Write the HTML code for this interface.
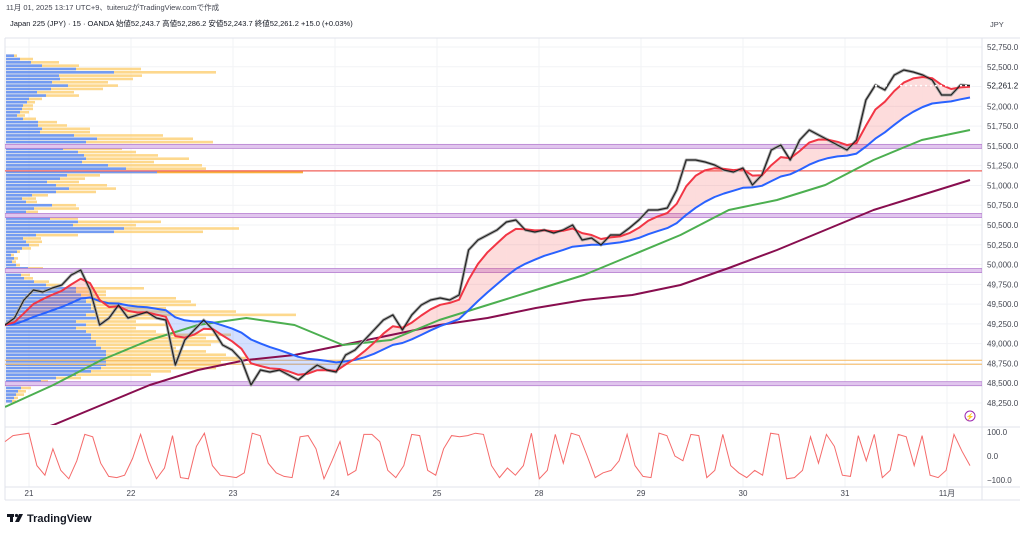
<!DOCTYPE html>
<html><head><meta charset="utf-8">
<style>
body{margin:0;background:#fff;width:1024px;height:535px;overflow:hidden;font-family:"Liberation Sans","Noto Sans CJK JP",sans-serif;}
svg{position:absolute;left:0;top:0}
text{font-family:"Liberation Sans","Noto Sans CJK JP",sans-serif}
</style></head>
<body>
<svg id="c" width="1024" height="535"></svg>
<script>
const closes=[49236,49325,49552,49678,49653,49704,49742,49868,49931,49678,49236,49325,49489,49325,49363,49400,49325,49299,48730,49046,49173,49299,49173,48983,48920,48794,48478,48667,48642,48667,48604,48541,48642,48730,48667,48642,48857,48920,49046,49173,49299,49363,49173,49363,49489,49552,49577,49552,49615,50184,50310,50374,50437,50538,50563,50437,50412,50437,50399,50437,50500,50310,50336,50247,50374,50374,50462,50563,50690,50690,50715,50942,51322,51322,51296,51258,51195,51170,51220,51006,51132,51448,51511,51322,51574,51701,51638,51574,51511,51448,51574,52080,52270,52206,52396,52459,52434,52396,52333,52143,52143,52270,52261];
const greenMA=[48200,48478,48794,49046,49236,49325,49236,48983,49046,49299,49489,49678,49868,50121,50374,50690,50816,51006,51322,51574,51701];
const maroonMA=[47783,47972,48225,48478,48667,48794,48857,48983,49110,49236,49325,49451,49552,49615,49742,49957,50184,50437,50690,50879,51069];
const oscValues=[60,85,90,95,-40,-80,30,-60,-95,-20,90,80,-30,-85,-90,-80,-10,90,-20,-95,-50,85,-90,-95,40,95,-40,-80,-85,-90,-70,95,85,-30,-70,-85,-90,80,85,30,-95,-20,60,-80,-60,90,90,60,-60,-90,-40,90,85,-60,-80,30,85,80,85,95,90,-40,-90,-50,-80,-40,95,-95,-60,90,-30,95,85,0,-90,-70,-60,-20,90,-40,-85,-90,95,85,0,-20,90,85,-90,-60,90,-40,-70,-90,-60,-80,95,90,-95,-90,-60,80,-30,90,40,-80,-85,85,-20,90,-90,-60,90,80,-40,85,-80,-90,-60,90,20,-40];
const vpBlue=[8,14,25,36,70,108,53,54,46,62,45,31,40,23,21,17,16,14,11,17,32,32,36,34,68,91,80,89,57,72,78,80,76,102,120,151,61,54,41,50,63,50,26,16,20,46,28,20,15,44,72,67,118,108,30,17,20,23,16,11,5,8,6,10,22,17,15,18,28,40,70,70,75,80,80,85,85,90,80,90,70,80,70,80,85,85,90,90,95,100,100,100,100,100,95,85,70,50,35,25,15,12,10,8,6];
const vpTotal=[11,27,53,73,135,210,136,127,102,112,97,68,73,36,29,27,27,23,19,30,51,61,84,84,157,187,207,208,116,130,152,183,148,196,200,297,94,79,73,101,110,90,42,30,31,70,73,32,25,72,155,130,233,197,72,35,36,33,25,14,8,12,10,14,37,23,24,27,43,55,138,100,100,170,185,190,160,230,290,150,130,160,130,150,225,200,215,205,170,200,220,240,215,220,210,165,145,75,42,40,25,20,18,12,10];
const priceTicks=[52750,52500,52000,51750,51500,51250,51000,50750,50500,50250,50000,49750,49500,49250,49000,48750,48500,48250];
const gridTicks=[52750,52500,52250,52000,51750,51500,51250,51000,50750,50500,50250,50000,49750,49500,49250,49000,48750,48500,48250];
const dayLabels=['21','22','23','24','25','28','29','30','31','11月'];
const bandLevels=[51494,50620,49924,48494];
const redLevel=51184;
const valueLevels=[48790,48740];
const lastPrice=52261.2;

const NS='http://www.w3.org/2000/svg';
const svg=document.getElementById('c');
function el(tag,attrs,parent){const e=document.createElementNS(NS,tag);for(const k in attrs)e.setAttribute(k,attrs[k]);(parent||svg).appendChild(e);return e;}
const yP=p=>47+(52750-p)*0.07911;
const L=5,R=982,T=38,B=425;
const xC=i=>5+i*(965/(closes.length-1));
const xMA=(i,n)=>5+i*(965/(n-1));
const xDay=i=>29+i*102;
const yO=v=>456-v*0.24;

const grid=el('g',{},svg);
gridTicks.forEach(p=>el('line',{x1:L,x2:R,y1:yP(p),y2:yP(p),stroke:'#f2f3f6','stroke-width':1},grid));
dayLabels.forEach((d,i)=>{el('line',{x1:xDay(i),x2:xDay(i),y1:T,y2:487,stroke:'#f2f3f6','stroke-width':1},grid);});
el('line',{x1:R,x2:R,y1:T,y2:500,stroke:'#e0e3eb'});
el('line',{x1:L,x2:1020,y1:T,y2:T,stroke:'#e0e3eb'});
el('line',{x1:L,x2:1020,y1:427,y2:427,stroke:'#e0e3eb'});
el('line',{x1:L,x2:1020,y1:487,y2:487,stroke:'#e0e3eb'});
el('line',{x1:L,x2:1020,y1:500,y2:500,stroke:'#e0e3eb'});
el('line',{x1:L,x2:L,y1:T,y2:500,stroke:'#e0e3eb'});

const defs=el('defs',{});const cp=el('clipPath',{id:'cl'},defs);el('rect',{x:L,y:T,width:R-L,height:B-T},cp);
const main=el('g',{'clip-path':'url(#cl)'});


const vp=el('g',{opacity:0.85},main);
let maxI=0;vpTotal.forEach((v,i)=>{if(v>vpTotal[maxI])maxI=i;});
vpBlue.forEach((b,i)=>{
  const p=52640-i*42, y=yP(p)-1.3;
  const tot=el('rect',{x:6,y:y,width:vpTotal[i],height:2.6,fill:i===maxI?'#f7a21b':'#fdd27a'},vp);
  
  const bl=el('rect',{x:6,y:y,width:b,height:2.6,fill:'#5b8af0'},vp);
  
});

bandLevels.forEach(p=>{const r=el('rect',{x:L,y:yP(p)-2,width:R-L,height:4,fill:'#e1c6ee',stroke:'#b67fd0','stroke-width':0.8},main);});
const rl=el('line',{x1:L,x2:R,y1:yP(redLevel),y2:yP(redLevel),stroke:'#f0605a','stroke-width':1.3},main);
valueLevels.forEach(p=>{const l=el('line',{x1:L,x2:R,y1:yP(p),y2:yP(p),stroke:'#f5b860','stroke-width':1},main);});

function ema(a,al){const o=[];let v=a[0];a.forEach(x=>{v=al*x+(1-al)*v;o.push(v);});return o;}
const red=ema(closes,0.4), blue=ema(closes,0.13);
const fill=el('g',{},main);
for(let i=0;i<closes.length-1;i++){
  const up=(red[i]+red[i+1])>(blue[i]+blue[i+1]);
  el('polygon',{points:`${xC(i)},${yP(red[i])} ${xC(i+1)},${yP(red[i+1])} ${xC(i+1)},${yP(blue[i+1])} ${xC(i)},${yP(blue[i])}`,fill:up?'rgba(247,82,82,0.2)':'rgba(41,98,255,0.2)'},fill);
}
function line(arr,xf,col,w,name){const pts=arr.map((v,i)=>xf(i).toFixed(1)+','+yP(v).toFixed(1)).join(' ');const p=el('polyline',{points:pts,fill:'none',stroke:col,'stroke-width':w,'stroke-linejoin':'round'},main);return p;}
line(maroonMA,i=>xMA(i,maroonMA.length),'#880e4f',2,'ma-200');
line(greenMA,i=>xMA(i,greenMA.length),'#4caf50',2,'ma-100');
line(closes,xC,'#a8a8a8',3,'price-wicks');
line(blue,xC,'#2962ff',2,'ema-slow');
line(red,xC,'#f23645',2,'ema-fast');
line(closes,xC,'#222',1.2,'price-line');
const lp=el('line',{x1:870,x2:975,y1:yP(lastPrice),y2:yP(lastPrice),stroke:'#fff','stroke-dasharray':'2 3','stroke-width':1.5},main);

priceTicks.forEach(p=>{const t=el('text',{x:987,y:yP(p)+3,'font-size':8,fill:'#434651'});t.textContent=p.toLocaleString('en-US',{minimumFractionDigits:1});});
const lpl=el('text',{x:987,y:yP(lastPrice)+3,'font-size':8,fill:'#131722'});lpl.textContent=lastPrice.toLocaleString('en-US',{minimumFractionDigits:1});

const op=oscValues.map((v,i)=>(5+i*(965/(oscValues.length-1))).toFixed(1)+','+yO(v).toFixed(1)).join(' ');
const osc=el('polyline',{points:op,fill:'none',stroke:'#f56a6a','stroke-width':1});
[[100,'100.0'],[0,'0.0'],[-100,'−100.0']].forEach(([v,s])=>{const t=el('text',{x:987,y:yO(v)+3,'font-size':8,fill:'#434651'});t.textContent=s;});

dayLabels.forEach((d,i)=>{const t=el('text',{x:xDay(i),y:496,'font-size':8,fill:'#434651','text-anchor':'middle'});t.textContent=d;});

const h1=el('text',{x:6,y:10,'font-size':7.5,fill:'#434651'});h1.textContent='11月 01, 2025 13:17 UTC+9、tuiteru2がTradingView.comで作成';
const h2=el('text',{x:10,y:26,'font-size':7.5,fill:'#131722'});h2.textContent='Japan 225 (JPY) · 15 · OANDA  始値52,243.7  高値52,286.2  安値52,243.7  終値52,261.2  +15.0 (+0.03%)';
const jp=el('text',{x:990,y:27,'font-size':7.5,fill:'#434651'});jp.textContent='JPY';
const ic=el('circle',{cx:970,cy:416,r:5,fill:'none',stroke:'#9c27b0','stroke-width':1});
const it=el('text',{x:970,y:419,'font-size':7,fill:'#9c27b0','text-anchor':'middle'});it.textContent='⚡';
const lg=el('g',{});
el('rect',{x:7,y:514,width:7,height:3,fill:'#131722'},lg);el('rect',{x:10,y:514,width:3,height:8,fill:'#131722'},lg);
el('circle',{cx:16.5,cy:515.5,r:1.6,fill:'#131722'},lg);el('polygon',{points:'19,514 23,514 19,522 15,522',fill:'#131722'},lg);
const lt=el('text',{x:27,y:522,'font-size':11,'font-weight':'bold',fill:'#131722'},lg);lt.textContent='TradingView';
</script>
</body></html>
